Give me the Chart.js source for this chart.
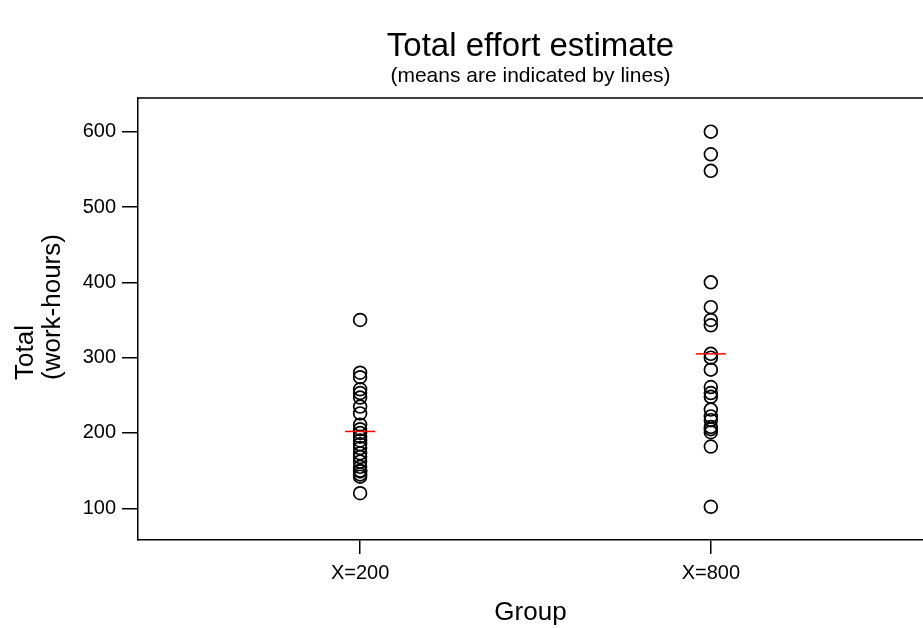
<!DOCTYPE html>
<html>
<head>
<meta charset="utf-8">
<title>Total effort estimate</title>
<script src="https://cdn.jsdelivr.net/npm/chart.js@4.4.1/dist/chart.umd.min.js"></script>
<style>
    body { margin: 0; background: #fff; }
    #wrap { width: 923px; height: 628px; }
</style>
</head>
<body>
<div id="wrap"><canvas id="effortChart"></canvas></div>
<script>
// groups on the x axis
const groupLabels = ['X=200', 'X=800'];
const groupX = [200, 800];

// total effort (work-hours) per subject
const totalsX200 = [350, 280, 274, 258, 253, 247, 235, 226, 211, 205, 200, 195, 190, 185, 180,
    173, 168, 162, 155, 150, 149, 145, 142, 120];
const totalsX800 = [600, 570, 548, 400, 367, 350, 343, 305, 300, 284, 261, 253, 248, 231, 222,
    217, 208, 205, 201, 182, 102];

// group means (red lines)
const groupMeans = [202, 305];

const yTicks = [100, 200, 300, 400, 500, 600];

document.addEventListener('DOMContentLoaded', function () {
    Chart.defaults.font.family = "'Liberation Sans', Arial, sans-serif";
    Chart.defaults.color = '#000';

    // top edge of the frame and the two-line y title
    const framePlugin = {
        id: 'frame',
        afterDraw(chart) {
            const ctx = chart.ctx;
            const area = chart.chartArea;
            ctx.save();
            ctx.strokeStyle = '#000';
            ctx.lineWidth = 1.5;
            ctx.beginPath();
            ctx.moveTo(area.left, area.top);
            ctx.lineTo(chart.width, area.top);
            ctx.stroke();

            ctx.fillStyle = '#000';
            ctx.font = "26px 'Liberation Sans', Arial, sans-serif";
            ctx.textAlign = 'left';
            ctx.textBaseline = 'alphabetic';
            ctx.translate(33, 380);
            ctx.rotate(-Math.PI / 2);
            ctx.fillText('Total', 0, 0);
            ctx.fillText('(work-hours)', 0, 27);
            ctx.restore();
        }
    };

    const canvas = document.getElementById('effortChart');
    new Chart(canvas, {
        type: 'scatter',
        data: {
            datasets: [{
                label: 'Mean',
                data: groupX.map((x, i) => ({ x: x, y: groupMeans[i] })),
                pointStyle: 'line',
                pointRadius: 15,
                borderColor: '#ff0000',
                borderWidth: 1.5,
                order: 0
            }, {
                label: 'X=200',
                data: totalsX200.map(v => ({ x: groupX[0], y: v })),
                pointStyle: 'circle',
                pointRadius: 6.4,
                backgroundColor: 'rgba(0,0,0,0)',
                borderColor: '#000',
                borderWidth: 1.7,
                order: 1
            }, {
                label: 'X=800',
                data: totalsX800.map(v => ({ x: groupX[1], y: v })),
                pointStyle: 'circle',
                pointRadius: 6.4,
                backgroundColor: 'rgba(0,0,0,0)',
                borderColor: '#000',
                borderWidth: 1.7,
                order: 1
            }]
        },
        options: {
            responsive: true,
            maintainAspectRatio: false,
            animation: false,
            layout: { padding: 0, autoPadding: false },
            scales: {
                x: {
                    type: 'linear',
                    min: -180,
                    max: 1163,
                    afterBuildTicks: scale => {
                        scale.ticks = groupX.map(v => ({ value: v }));
                    },
                    afterFit: scale => {
                        scale.height = 88;
                        scale.paddingLeft = 0;
                        scale.paddingRight = 0;
                    },
                    ticks: {
                        padding: 7,
                        font: { size: 20 },
                        callback: value => groupLabels[groupX.indexOf(value)]
                    },
                    grid: {
                        drawOnChartArea: false,
                        tickLength: 14,
                        color: '#000',
                        lineWidth: 1.5
                    },
                    border: { display: true, color: '#000', width: 1.5 },
                    title: {
                        display: true,
                        text: 'Group',
                        font: { size: 26 },
                        padding: { top: 0, bottom: 0 }
                    }
                },
                y: {
                    min: 57.9,
                    max: 644.7,
                    afterBuildTicks: scale => {
                        scale.ticks = yTicks.map(v => ({ value: v }));
                    },
                    afterFit: scale => {
                        scale.width = 138;
                        scale.paddingTop = 0;
                        scale.paddingBottom = 0;
                    },
                    ticks: {
                        padding: 6,
                        font: { size: 20 }
                    },
                    grid: {
                        drawOnChartArea: false,
                        tickLength: 16,
                        color: '#000',
                        lineWidth: 1.5
                    },
                    border: { display: true, color: '#000', width: 1.5 }
                }
            },
            plugins: {
                legend: { display: false },
                tooltip: { enabled: false },
                title: {
                    display: true,
                    text: 'Total effort estimate',
                    fullSize: false,
                    font: { size: 33, weight: 'normal', lineHeight: 1 },
                    padding: { top: 30.5, bottom: 0 }
                },
                subtitle: {
                    display: true,
                    text: '(means are indicated by lines)',
                    fullSize: false,
                    font: { size: 21, weight: 'normal', lineHeight: 1 },
                    color: '#000',
                    padding: { top: 2, bottom: 11.5 }
                }
            }
        },
        plugins: [framePlugin]
    });
});
</script>
</body>
</html>
